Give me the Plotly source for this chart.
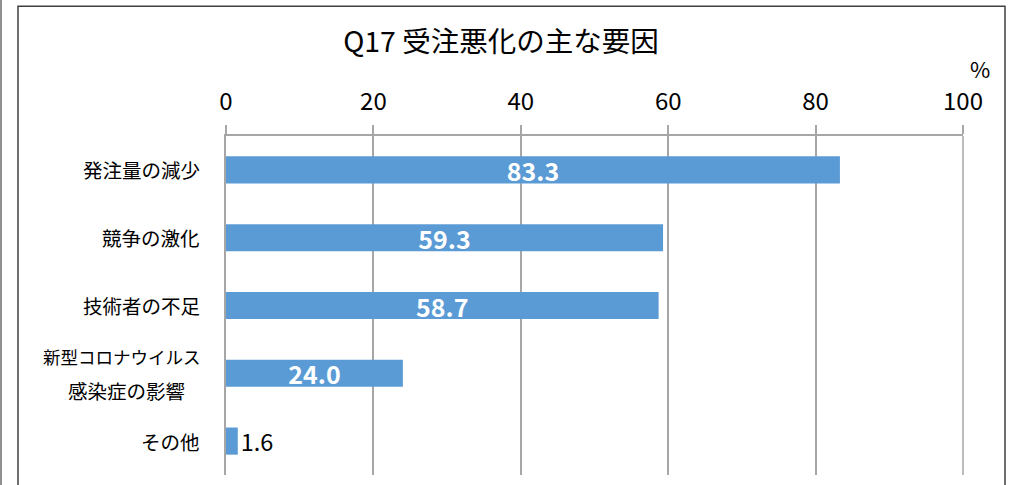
import plotly.graph_objects as go

categories = ["発注量の減少", "競争の激化", "技術者の不足", "新型コロナウイルス<br>感染症の影響", "その他"]
label_lines = [["発注量の減少"], ["競争の激化"], ["技術者の不足"], ["新型コロナウイルス", "感染症の影響"], ["その他"]]
values = [83.3, 59.3, 58.7, 24.0, 1.6]
tick_vals = [0, 20, 40, 60, 80, 100]
tick_text = ["0", "20", "40", "60", "80", "100"]
title_text = "Q17 受注悪化の主な要因"
unit_text = "%"

FONT = "Noto Sans CJK JP, Noto Sans, sans-serif"
BAR = "#5b9bd5"
GRID = "#a6a6a6"

text_pos = ["inside" if v > 5 else "outside" for v in values]

fig = go.Figure(go.Bar(
    x=values, y=categories, orientation="h",
    marker=dict(color=BAR, line=dict(width=0)),
    text=[f"{v:.1f}" for v in values],
    textposition=text_pos,
    insidetextanchor="middle",
    insidetextfont=dict(family=FONT, size=25, color="white", weight="bold"),
    outsidetextfont=dict(family=FONT, size=23.5, color="#000000"),
    constraintext="none",
    cliponaxis=False,
    hoverinfo="skip",
))

LBL = dict(family=FONT, size=19.5, color="#000000")
LBL_SMALL = dict(family=FONT, size=17.5, color="#000000")
annotations = []
for cat, lines in zip(categories, label_lines):
    if len(lines) == 1:
        annotations.append(dict(x=0, xref="paper", y=cat, yref="y", text=lines[0],
                                xanchor="right", yanchor="middle", xshift=-24, showarrow=False, font=LBL))
    else:
        annotations.append(dict(x=0, xref="paper", y=cat, yref="y", text=lines[0],
                                xanchor="right", yanchor="middle", xshift=-23, yshift=17, showarrow=False,
                                font=LBL_SMALL))
        annotations.append(dict(x=0, xref="paper", y=cat, yref="y", text=lines[1],
                                xanchor="right", yanchor="middle", xshift=-39, yshift=-17, showarrow=False,
                                font=LBL))

annotations.append(dict(x=1.0, xref="paper", y=1, yref="paper", text=unit_text,
                        xanchor="left", yanchor="middle", xshift=5, yshift=68, showarrow=False,
                        font=dict(family=FONT, size=22, color="#000000")))

fig.update_layout(
    width=1013, height=485,
    margin=dict(l=226, r=50, t=136, b=10),
    paper_bgcolor="white", plot_bgcolor="white",
    bargap=0.6,
    showlegend=False,
    title=dict(text=title_text, x=501 / 1013, xanchor="center", y=1 - 42 / 485, yanchor="middle",
               yref="container", font=dict(family=FONT, size=28.5, color="#000000")),
    xaxis=dict(
        side="top", range=[0, 100], tickvals=tick_vals, ticktext=tick_text,
        showgrid=True, gridcolor=GRID, gridwidth=1.5,
        zeroline=False,
        showline=True, linecolor=GRID, linewidth=1.5,
        ticks="outside", ticklen=9, tickcolor=GRID, tickwidth=1.5,
        ticklabelstandoff=6,
        tickfont=dict(family=FONT, size=24, color="#000000"),
        fixedrange=True,
    ),
    yaxis=dict(
        autorange="reversed", showticklabels=False, ticks="",
        showline=True, linecolor=GRID, linewidth=2,
        showgrid=False, fixedrange=True,
    ),
    annotations=annotations,
    shapes=[
        dict(type="rect", xref="paper", yref="paper",
             x0=(18 - 226) / 737, x1=(1005 - 226) / 737,
             y0=-(500 - 475.5) / 339.5, y1=1 + (136 - 6) / 339.5,
             line=dict(color="#404040", width=1.5), layer="below"),
        dict(type="line", xref="paper", yref="paper",
             x0=(1 - 226) / 737, x1=(1 - 226) / 737,
             y0=-(500 - 475.5) / 339.5, y1=1 + 140 / 339.5,
             line=dict(color="#909090", width=2)),
        dict(type="line", xref="paper", yref="paper", x0=1, x1=1, y0=0, y1=1,
             line=dict(color=GRID, width=1.5)),
    ],
)

fig.write_html("out.html", config={"displayModeBar": False},
               post_script="document.body.style.margin='0';document.body.style.overflow='hidden';")
